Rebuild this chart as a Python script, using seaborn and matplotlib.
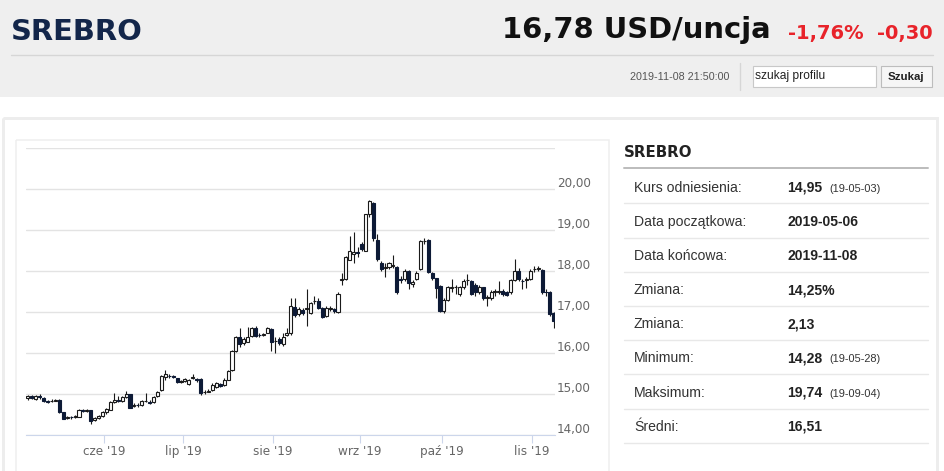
import numpy as np
import pandas as pd
import matplotlib
matplotlib.use("Agg")
import matplotlib.pyplot as plt
import seaborn as sns
from matplotlib.patches import Rectangle
from matplotlib import transforms

# ---------------- data ----------------
start_date = "2019-05-06"
end_date = "2019-11-08"
opens = [14.90, 14.94, 14.88, 14.95, 14.90, 14.83, 14.82, 14.84, 14.85, 14.55,
         14.42, 14.44, 14.43, 14.45, 14.60, 14.59, 14.60, 14.36, 14.42, 14.47,
         14.55, 14.62, 14.80, 14.86, 14.84, 14.92, 14.99, 14.70, 14.74, 14.73,
         14.83, 14.80, 14.80, 14.94, 15.10, 15.42, 15.45, 15.43, 15.38, 15.30,
         15.32, 15.25, 15.40, 15.37, 15.36, 15.04, 15.06, 15.10, 15.18, 15.25,
         15.22, 15.35, 15.58, 16.05, 16.40, 16.25, 16.28, 16.42, 16.62, 16.45,
         16.44, 16.50, 16.58, 16.30, 16.35, 16.22, 16.45, 16.48, 17.12, 16.95,
         17.05, 17.08, 16.97, 17.26, 17.27, 17.10, 16.90, 17.08, 17.08, 17.00,
         17.78, 17.80, 18.28, 18.42, 18.47, 18.66, 18.50, 19.38, 19.65, 18.75,
         18.20, 18.08, 18.10, 18.12, 18.10, 17.80, 17.80, 18.00, 17.68, 17.80,
         18.05, 18.72, 18.75, 17.95, 17.82, 17.64, 17.03, 17.30, 17.58, 17.60,
         17.45, 17.60, 17.78, 17.75, 17.65, 17.50, 17.60, 17.35, 17.35, 17.50,
         17.50, 17.52, 17.50, 17.50, 17.78, 18.00, 17.76, 17.78, 17.80, 18.05,
         18.05, 18.02, 17.50, 17.50, 16.98]
highs = [14.98, 14.97, 14.98, 14.99, 14.92, 14.86, 14.88, 14.89, 14.87, 14.57,
         14.47, 14.46, 14.49, 14.63, 14.64, 14.63, 14.62, 14.45, 14.50, 14.58,
         14.67, 14.83, 15.02, 14.95, 14.95, 15.08, 15.01, 14.78, 14.78, 14.85,
         15.02, 14.85, 14.95, 15.08, 15.46, 15.58, 15.50, 15.47, 15.40, 15.35,
         15.39, 15.37, 15.50, 15.40, 15.38, 15.09, 15.12, 15.26, 15.30, 15.28,
         15.38, 15.58, 16.07, 16.42, 16.62, 16.40, 16.63, 16.63, 16.66, 16.48,
         16.50, 16.63, 16.60, 16.40, 16.38, 16.50, 16.62, 17.35, 17.35, 17.12,
         17.10, 17.55, 17.25, 17.38, 17.35, 17.12, 17.14, 17.14, 17.10, 17.48,
         17.95, 18.36, 18.86, 18.95, 18.58, 18.70, 19.40, 19.74, 19.68, 18.90,
         18.25, 18.20, 18.22, 18.40, 18.12, 17.88, 18.05, 18.02, 17.78, 18.00,
         18.75, 18.80, 18.78, 17.97, 17.84, 17.66, 17.33, 17.63, 17.80, 17.66,
         17.63, 17.80, 17.92, 17.78, 17.70, 17.65, 17.62, 17.42, 17.53, 17.56,
         17.75, 17.55, 17.52, 17.80, 18.30, 18.08, 17.80, 17.85, 18.05, 18.12,
         18.12, 18.05, 17.55, 17.52, 17.00]
lows = [14.86, 14.87, 14.86, 14.89, 14.80, 14.78, 14.80, 14.82, 14.54, 14.38,
        14.40, 14.40, 14.41, 14.43, 14.55, 14.57, 14.28, 14.33, 14.39, 14.45,
        14.52, 14.60, 14.78, 14.80, 14.80, 14.90, 14.65, 14.68, 14.69, 14.71,
        14.80, 14.75, 14.78, 14.92, 15.08, 15.35, 15.40, 15.38, 15.27, 15.27,
        15.30, 15.22, 15.37, 15.30, 14.97, 15.01, 15.04, 15.08, 15.15, 15.17,
        15.20, 15.33, 15.56, 16.02, 16.15, 16.20, 16.26, 16.38, 16.38, 16.40,
        16.41, 16.48, 16.05, 16.00, 16.20, 16.18, 16.42, 16.45, 16.88, 16.90,
        16.92, 16.65, 16.95, 17.20, 17.08, 16.85, 16.88, 17.02, 16.98, 16.98,
        17.65, 17.78, 18.26, 18.20, 18.35, 18.50, 18.48, 19.32, 18.72, 18.25,
        18.00, 17.85, 18.05, 18.08, 17.45, 17.70, 17.75, 17.55, 17.62, 17.78,
        18.02, 18.65, 17.95, 17.78, 17.35, 17.00, 16.98, 17.28, 17.48, 17.45,
        17.40, 17.55, 17.65, 17.42, 17.40, 17.45, 17.30, 17.15, 17.30, 17.40,
        17.45, 17.40, 17.38, 17.45, 17.75, 17.75, 17.55, 17.58, 17.78, 17.98,
        18.00, 17.45, 17.40, 16.90, 16.62]
closes = [14.94, 14.90, 14.95, 14.92, 14.83, 14.81, 14.84, 14.85, 14.56, 14.40,
          14.44, 14.43, 14.46, 14.60, 14.58, 14.60, 14.33, 14.42, 14.47, 14.55,
          14.64, 14.80, 14.86, 14.83, 14.92, 15.00, 14.67, 14.74, 14.72, 14.82,
          14.83, 14.78, 14.92, 15.06, 15.43, 15.48, 15.44, 15.42, 15.30, 15.32,
          15.36, 15.35, 15.41, 15.34, 15.02, 15.06, 15.08, 15.22, 15.27, 15.20,
          15.35, 15.56, 16.05, 16.38, 16.22, 16.35, 16.40, 16.60, 16.42, 16.44,
          16.46, 16.60, 16.28, 16.30, 16.25, 16.40, 16.50, 17.15, 16.92, 17.08,
          16.98, 17.10, 17.22, 17.27, 17.10, 16.88, 17.10, 17.10, 17.03, 17.45,
          17.80, 18.33, 18.50, 18.46, 18.45, 18.54, 19.38, 19.71, 18.80, 18.30,
          18.05, 18.10, 18.20, 18.14, 17.50, 17.78, 18.00, 17.70, 17.74, 17.95,
          18.72, 18.74, 17.98, 17.82, 17.58, 17.03, 17.30, 17.60, 17.60, 17.61,
          17.60, 17.75, 17.78, 17.45, 17.50, 17.62, 17.35, 17.36, 17.50, 17.51,
          17.52, 17.45, 17.42, 17.78, 18.00, 17.80, 17.75, 17.80, 18.00, 18.06,
          18.07, 17.50, 17.49, 16.96, 16.78]

month_starts = ["2019-06-01", "2019-07-01", "2019-08-01", "2019-09-01", "2019-10-01", "2019-11-01"]
month_labels = ["cze '19", "lip '19", "sie '19", "wrz '19", "paź '19", "lis '19"]
y_ticks = [14, 15, 16, 17, 18, 19, 20, 21]
y_labels = ["14,00", "15,00", "16,00", "17,00", "18,00", "19,00", "20,00", ""]

title = "SREBRO"
price_text = "16,78 USD/uncja"
change_pct = "-1,76%"
change_abs = "-0,30"
timestamp = "2019-11-08 21:50:00"

row_labels = ["Kurs odniesienia:", "Data początkowa:", "Data końcowa:", "Zmiana:",
              "Zmiana:", "Minimum:", "Maksimum:", "Średni:"]
row_values = ["14,95", "2019-05-06", "2019-11-08", "14,25%", "2,13", "14,28", "19,74", "16,51"]
row_notes = ["(19-05-03)", "", "", "", "", "(19-05-28)", "(19-09-04)", ""]

# ---------------- setup ----------------
sns.set_theme(style="white")
plt.rcParams["font.family"] = ["DejaVu Sans"]

dates = pd.bdate_range(start_date, end_date)
df = pd.DataFrame({"date": dates, "open": opens, "high": highs, "low": lows, "close": closes})
df["idx"] = np.arange(len(df))
df["up"] = df["close"] >= df["open"]
df["body_lo"] = df[["open", "close"]].min(axis=1)
df["body_h"] = (df["close"] - df["open"]).abs()

W, H = 945, 471
fig = plt.figure(figsize=(W / 100, H / 100), dpi=100)
fig.patch.set_facecolor("white")

bg = fig.add_axes([0, 0, 1, 1])
bg.set_xlim(0, W)
bg.set_ylim(H, 0)
bg.axis("off")

def px(v):
    return v * 0.72

# header band
bg.add_patch(Rectangle((0, 0), W, 97, facecolor="#efefef", edgecolor="none", zorder=0))
bg.text(11, 40, title, fontsize=px(29), fontweight="bold", color="#13264a",
        family="DejaVu Sans", va="baseline", ha="left")
bg.text(771, 38, price_text, fontsize=px(29), fontweight="bold", color="#111111",
        family="DejaVu Sans", va="baseline", ha="right")
bg.text(788, 38.5, change_pct, fontsize=px(19.5), fontweight="bold", color="#e8232a",
        family="DejaVu Sans", va="baseline", ha="left")
bg.text(933, 38.5, change_abs, fontsize=px(19.5), fontweight="bold", color="#e8232a",
        family="DejaVu Sans", va="baseline", ha="right")
bg.plot([11, 933], [55, 55], color="#d6d6d6", lw=1, zorder=1)
bg.plot([739.5, 739.5], [63, 90], color="#d6d6d6", lw=1, zorder=1)
bg.text(729, 77, timestamp, fontsize=px(10.7), color="#555555",
        family="Liberation Sans", va="center", ha="right")
bg.add_patch(Rectangle((752.5, 65.5), 123, 21.5, facecolor="white", edgecolor="#c8c8c8", lw=0.8, zorder=1))
bg.text(755, 76.5, "szukaj profilu", fontsize=px(12), color="#222222",
        family="Liberation Sans", va="center", ha="left", zorder=2)
bg.add_patch(Rectangle((880.5, 65.5), 51, 21.5, facecolor="#f6f6f6", edgecolor="#bdbdbd", lw=0.8, zorder=1))
bg.text(906, 76.5, "Szukaj", fontsize=px(11.5), fontweight="bold", color="#222222",
        family="Liberation Sans", va="center", ha="center", zorder=2)

# panels
bg.add_patch(Rectangle((3, 118), 934, 400, facecolor="none", edgecolor="#ededed", lw=px(3), zorder=1))
bg.add_patch(Rectangle((16, 139.5), 593, 400, facecolor="none", edgecolor="#eeeeee", lw=px(1.5), zorder=1))

# right table
bg.text(624, 157, title, fontsize=px(15), fontweight="bold", color="#222222",
        family="DejaVu Sans", va="baseline", ha="left")
bg.plot([624, 928], [168, 168], color="#bdbdbd", lw=px(2), zorder=1)
row_h = 34.2
for k, (lab, val, note) in enumerate(zip(row_labels, row_values, row_notes)):
    yc = 186.5 + k * row_h
    bg.text(634, yc + 5, lab, fontsize=px(14), color="#333333",
            family="Liberation Sans", va="baseline", ha="left")
    bg.text(787, yc + 5, val, fontsize=px(14), fontweight="bold", color="#222222",
            family="Liberation Sans", va="baseline", ha="left")
    if note:
        bg.text(829, yc + 5, note, fontsize=px(11), color="#333333",
                family="Liberation Sans", va="baseline", ha="left")
    bg.plot([624, 928], [yc + 16.8, yc + 16.8], color="#e8e8e8", lw=1, zorder=1)

# ---------------- candlestick chart ----------------
L, R, T, B = 26, 555, 148, 435
ax = fig.add_axes([L / W, 1 - B / H, (R - L) / W, (B - T) / H])
ax.set_facecolor("none")

up = df[df["up"]]
dn = df[~df["up"]]
ax.vlines(df["idx"], df["low"], df["high"], color="#1a1a1a", lw=0.8, zorder=2)
ax.bar(up["idx"], up["body_h"], bottom=up["body_lo"], width=0.78, color="white",
       edgecolor="#1a1a1a", linewidth=0.8, zorder=3)
ax.bar(dn["idx"], dn["body_h"], bottom=dn["body_lo"], width=0.78, color="#0d1a36",
       edgecolor="#0d1a36", linewidth=0.8, zorder=3)

ax.set_xlim(-0.5, 134.3)
ax.set_ylim(14, 21)

ax.set_yticks(y_ticks)
ax.set_yticklabels([])
ax.tick_params(axis="y", length=0)
ax.yaxis.grid(True, color="#e3e3e3", lw=1)
ax.xaxis.grid(False)
ax.set_axisbelow(True)

tick_pos = [int(np.searchsorted(df["date"].values, np.datetime64(m))) - 0.5 for m in month_starts]
ax.set_xticks(tick_pos)
ax.set_xticklabels(month_labels)
ax.tick_params(axis="x", length=px(8), width=0.8, color="#ccd6eb", labelcolor="#666666",
               labelsize=px(12), pad=px(2), bottom=True)

sns.despine(ax=ax, left=True, right=True, top=True)
ax.spines["bottom"].set_color("#ccd6eb")
ax.spines["bottom"].set_linewidth(0.8)

lab_tr = transforms.offset_copy(ax.get_yaxis_transform(), fig=fig, x=0, y=2, units="dots")
for v, s in zip(y_ticks, y_labels):
    if s:
        ax.text((557 - L) / (R - L), v, s, transform=lab_tr, fontsize=px(12), color="#666666",
                va="baseline", ha="left", clip_on=False)

fig.savefig("out.png", dpi=100)
